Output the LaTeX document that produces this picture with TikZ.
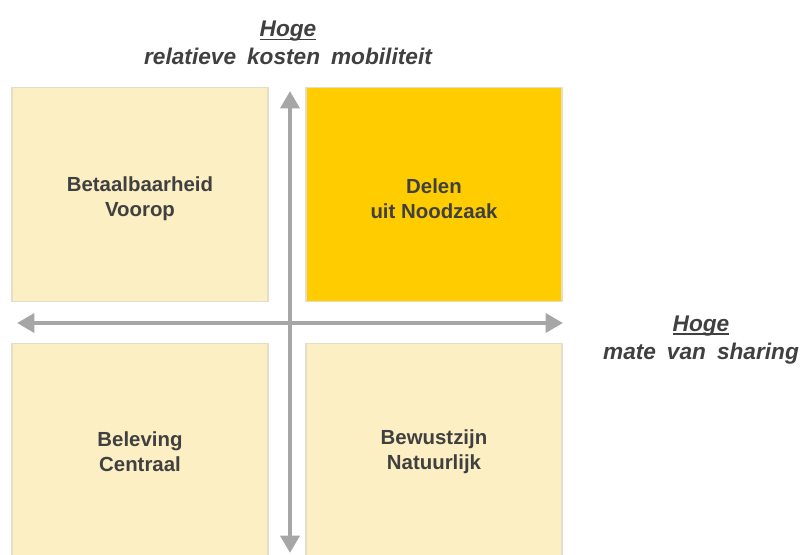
\documentclass[tikz,border=0pt]{standalone}
\usepackage{fontspec}
\setmainfont{Liberation Sans}
\usetikzlibrary{arrows.meta}
\definecolor{paleyellow}{RGB}{253,239,196}
\definecolor{goldbox}{RGB}{255,204,0}
\definecolor{boxedge}{RGB}{228,222,200}
\definecolor{axisgray}{RGB}{166,166,166}
\definecolor{textgray}{RGB}{64,64,64}
% heavier underline sitting close to the baseline
\newlength{\ulw}
\newcommand{\thickul}[1]{\settowidth{\ulw}{#1}\rlap{\rule[-2.8pt]{\ulw}{1.4pt}}#1}
\newcommand{\wsp}{\hspace{3.5pt}\ }
\tikzset{
  quadrant/.style={draw=boxedge, line width=0.9pt, minimum width=192pt, minimum height=160pt,
    inner sep=0pt},
  quadtext/.style={align=center, text=textgray, inner sep=0pt,
    font=\bfseries\fontsize{15.3}{18.75}\selectfont},
  axis/.style={draw=axisgray, line width=3.6pt,
    {Triangle[width=14pt,length=13pt]}-{Triangle[width=14pt,length=13pt]}},
  axislabel/.style={align=center, text=textgray, inner sep=0pt,
    font=\bfseries\itshape\fontsize{17}{21}\selectfont}
}
\begin{document}
\begin{tikzpicture}[x=0.75pt, y=-0.75pt]
  \useasboundingbox (0,0) rectangle (802,554);
  % four quadrants
  \node[quadrant, fill=paleyellow] (tl) at (140,194.5) {};
  \node[quadrant, fill=goldbox]    (tr) at (434,194.5) {};
  \node[quadrant, fill=paleyellow] (bl) at (140,450.5) {};
  \node[quadrant, fill=paleyellow] (br) at (434,450.5) {};
  \node[quadtext] (tltext) at ([yshift=-3pt]tl.center) {Betaalbaarheid\\Voorop};
  \node[quadtext] (trtext) at ([yshift=-3pt]tr.center) {Delen\\uit Noodzaak};
  \node[quadtext] (bltext) at ([yshift=-1pt]bl.center) {Beleving\\Centraal};
  \node[quadtext] (brtext) at ([yshift=-1pt]br.center) {Bewustzijn\\Natuurlijk};
  % axes
  \coordinate (vtop) at (290,91);
  \coordinate (vbot) at (290,553);
  \coordinate (hleft) at (17,323);
  \coordinate (hright) at (563,323);
  \draw[axis] (vbot) -- (vtop);
  \draw[axis] (hleft) -- (hright);
  % axis captions
  \node[axislabel] (ytitle) at (288,43) {\thickul{Hoge}\\relatieve\wsp kosten\wsp mobiliteit};
  \node[axislabel] (xtitle) at (701,340) {\thickul{Hoge}\\mate\wsp van\wsp sharing};
\end{tikzpicture}
\end{document}
